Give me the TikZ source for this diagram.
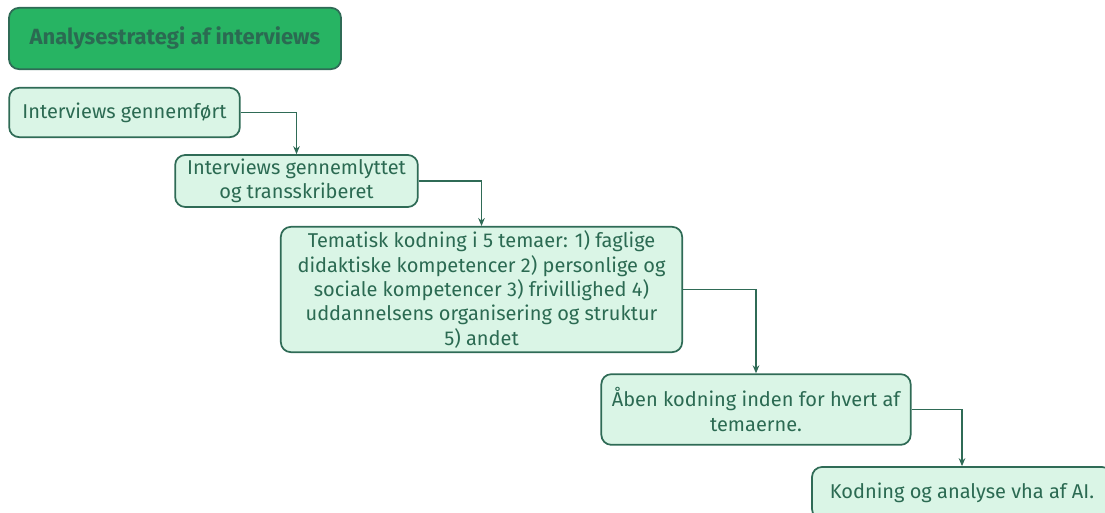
\documentclass[tikz,border=0pt]{standalone}
\usepackage{fontspec}
\setmainfont{Fira Sans}
\usepackage{xcolor}
\usepackage{tikz}
\usetikzlibrary{arrows.meta,positioning}

\definecolor{stepline}{HTML}{2F6B56}
\definecolor{steptext}{HTML}{2B6A52}
\definecolor{stepfill}{HTML}{DAF5E6}
\definecolor{titlefill}{HTML}{27B463}

\begin{document}
\begin{tikzpicture}
  [
  x=0.75pt,y=-0.75pt,
  stepbox/.style={rectangle,draw=stepline,fill=stepfill,line width=1.3pt,rounded corners=7.5pt,
    text=steptext,font=\fontsize{15}{18.3}\selectfont,align=center,inner sep=2pt},
  titlebox/.style={stepbox,fill=titlefill,font=\fontsize{16.5}{20}\selectfont\bfseries},
  flow/.style={-{Stealth[length=6pt,width=5pt]},draw=stepline,line width=0.8pt}
  ]
  \useasboundingbox (0,0) rectangle (1105,513);
  \node[titlebox,minimum width=249pt,minimum height=46pt] (titel) at (175,38.5) {Analysestrategi af interviews};
  \node[stepbox,minimum width=173pt,minimum height=37pt] (gennemfoert) at (124.5,112.5) {Interviews gennemført};
  \node[stepbox,minimum width=182pt,minimum height=39pt] (lyttet) at (296.5,181) {Interviews gennemlyttet\\og transskriberet};
  \node[stepbox,minimum width=301pt,minimum height=94pt] (tematisk) at (481.5,289.5)
    {Tematisk kodning i 5 temaer: 1) faglige\\didaktiske kompetencer 2) personlige og\\sociale kompetencer 3) frivillighed 4)\\uddannelsens organisering og struktur\\5) andet};
  \node[stepbox,minimum width=232pt,minimum height=53pt] (aaben) at (756,409.5) {Åben kodning inden for hvert af\\temaerne.};
  \node[stepbox,minimum width=225pt,minimum height=39pt] (ai) at (962,493) {Kodning og analyse vha af AI.};

  \draw[flow] (gennemfoert) -| (lyttet);
  \draw[flow] (lyttet) -| (tematisk);
  \draw[flow] (tematisk) -| (aaben);
  \draw[flow] (aaben) -| (ai);
\end{tikzpicture}
\end{document}
